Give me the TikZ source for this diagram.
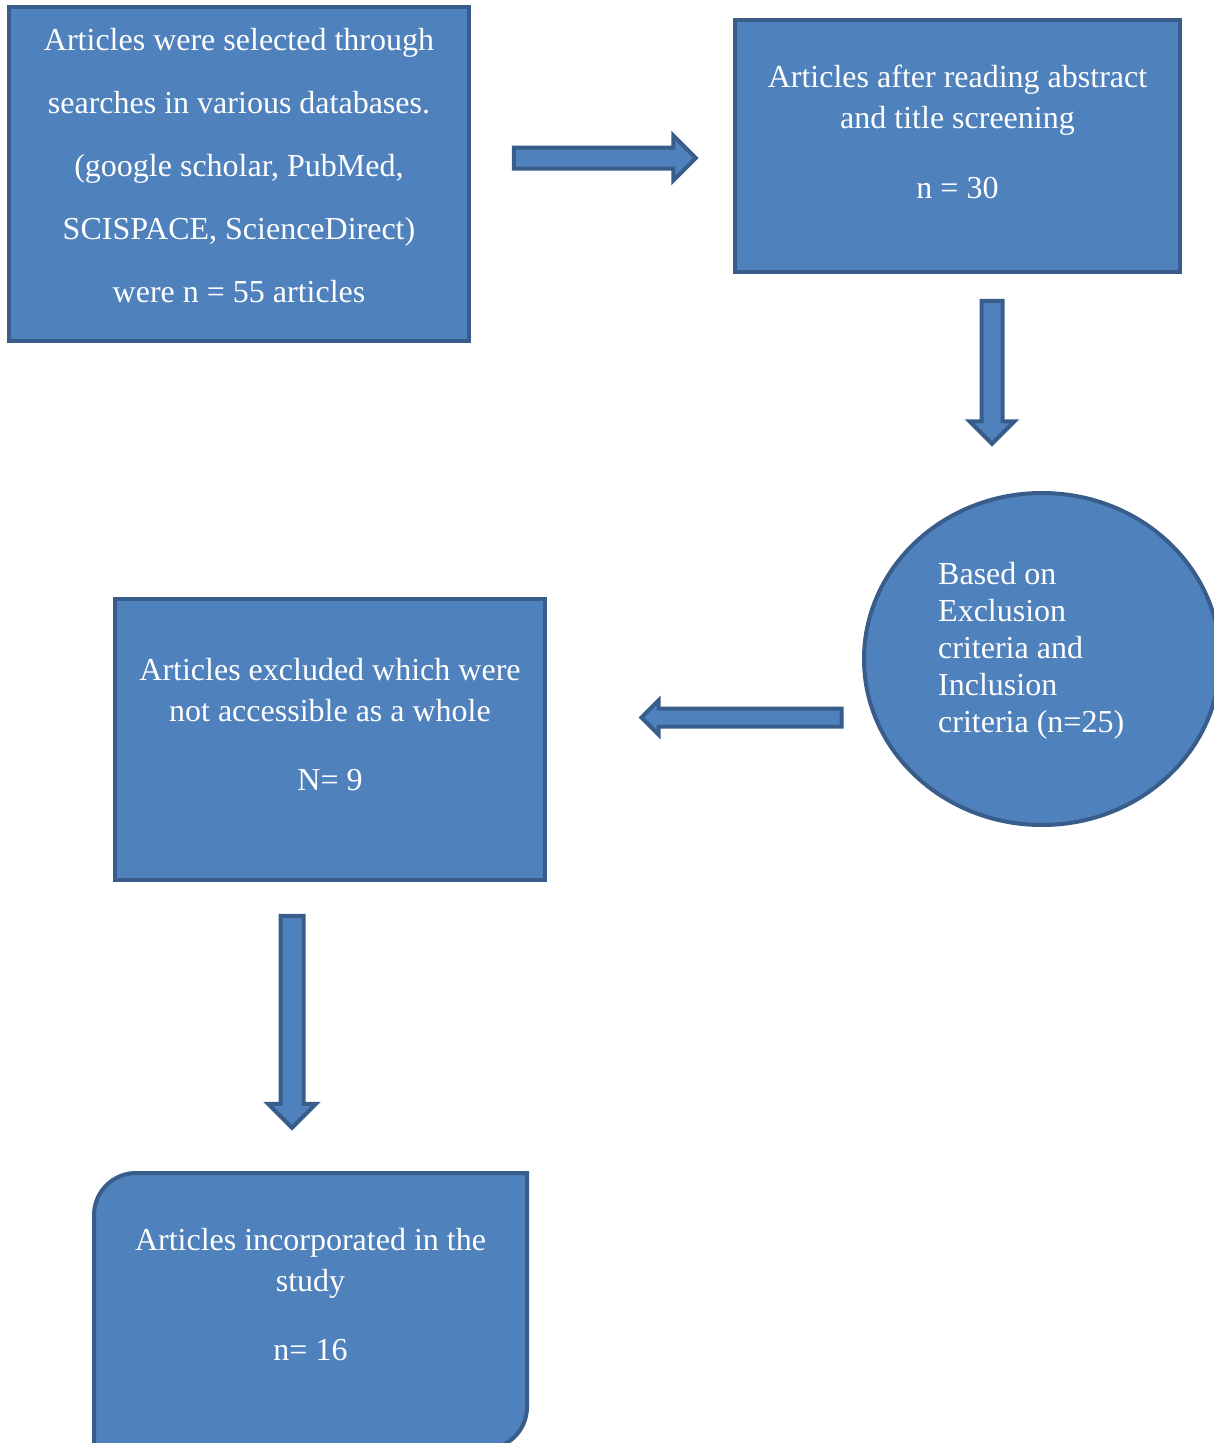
\documentclass[tikz,border=0pt]{standalone}
\usepackage{fontspec}
\setmainfont{Liberation Serif}
\usepackage{xcolor}
\usepackage{tikz}
\usetikzlibrary{shapes.geometric, shapes.arrows, positioning}

\definecolor{boxfill}{HTML}{4F81BD}
\definecolor{boxline}{HTML}{385D8A}

\begin{document}
\begin{tikzpicture}[
            x=1pt, y=1pt,
            box/.style={rectangle, draw=boxline, fill=boxfill, line width=4pt, inner sep=0pt},
            oval/.style={ellipse, draw=boxline, fill=boxfill, line width=4pt, inner sep=0pt},
            txt/.style={text=white, align=center, inner sep=0pt, font=\fontsize{32}{41}\selectfont},
            blockarrow/.style={single arrow, draw=boxline, fill=boxfill, line width=4pt,
                inner xsep=0pt, inner ysep=8.5pt, single arrow head extend=12pt}
        ]

        \useasboundingbox (0,0) rectangle (1213,-1443);

        % Boxes (manual layout to match figure)
        \node[box, minimum width=460pt, minimum height=334pt] (search) at (239,-174) {};
        \node[box, minimum width=445pt, minimum height=252pt] (screen) at (957.5,-146) {};
        \node[oval, minimum width=356pt, minimum height=332pt] (criteria) at (1042,-659) {};
        \node[box, minimum width=430pt, minimum height=281pt] (excluded) at (330,-739.5) {};
        \node[inner sep=0pt, outer sep=0pt, minimum width=433pt, minimum height=276pt] (final) at (310.5,-1311) {};

        % last box: two round corners
        \draw[draw=boxline, fill=boxfill, line width=4pt] (final.south west)
            -- ([yshift=-42pt]final.north west) arc[start angle=180, end angle=90, radius=42pt]
            -- (final.north east)
            -- ([yshift=42pt]final.south east) arc[start angle=0, end angle=-90, radius=42pt]
            -- cycle;

        % Texts
        \node[txt, font=\fontsize{32}{63}\selectfont, below=23pt of search.north] (searchtxt)
            {Articles were selected through\\searches in various databases.\\(google scholar, PubMed,\\SCISPACE, ScienceDirect)\\were n = 55 articles};
        \node[txt, below=47pt of screen.north] (screentxt)
            {Articles after reading abstract\\and title screening\\[29pt]n = 30};
        \node[txt, align=left, font=\fontsize{32}{37}\selectfont, anchor=north west] (criteriatxt) at (938,-562)
            {Based on\\Exclusion\\criteria and\\Inclusion\\criteria (n=25)};
        \node[txt, below=61pt of excluded.north] (excludedtxt)
            {Articles excluded which were\\not accessible as a whole\\[28pt]N= 9};
        \node[txt, below=55pt of final.north] (finaltxt)
            {Articles incorporated in the\\study\\[28pt]n= 16};

        % Arrows
        \node[blockarrow, minimum height=182pt] (a1) at (599.5,-158) {};
        \node[blockarrow, minimum height=143pt, rotate=-90] (a2) at (992,-367) {};
        \node[blockarrow, minimum height=200pt, rotate=180, inner ysep=7pt,
            single arrow head extend=8pt] (a3) at (746,-717.5) {};
        \node[blockarrow, minimum height=212pt, rotate=-90, inner ysep=9.5pt,
            single arrow head extend=12.5pt] (a4) at (292,-1016) {};

    \end{tikzpicture}
\end{document}
